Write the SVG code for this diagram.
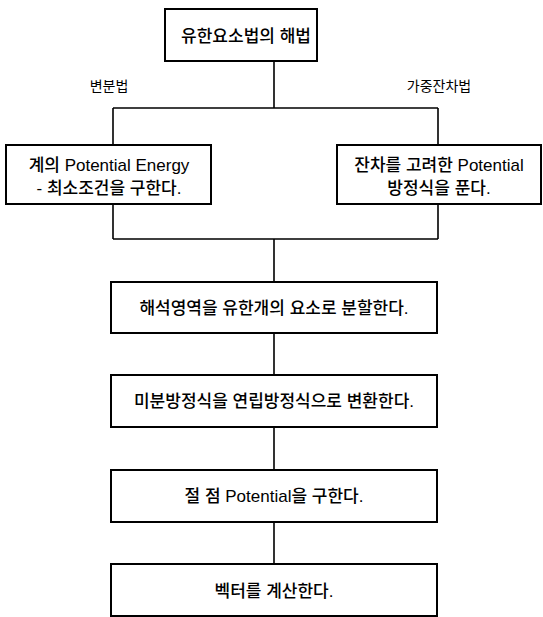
<svg xmlns="http://www.w3.org/2000/svg" width="543" height="617" viewBox="0 0 543 617">
<style>
.box{fill:#fff;stroke:#000;stroke-width:2}
.t{font-family:"Liberation Sans","Noto Sans CJK KR",sans-serif;font-size:17px;font-weight:500;fill:#000;text-anchor:middle}
.l{font-family:"Liberation Sans","Noto Sans CJK KR",sans-serif;font-size:14px;fill:#000;text-anchor:middle}
.c{fill:none;stroke:#000;stroke-width:1.6}
</style>
<rect width="543" height="617" fill="#fff"/>
<g id="connectors">
<path class="c" d="M274 61V108M113 108H438M113 108V145M438 108V145"/>
<path class="c" d="M113 204V239M438 204V239M113 239H438M274 239V282"/>
<path class="c" d="M274 333V375M274 427V470M274 522V564"/>
<text class="l" x="109" y="91">변분법</text>
<text class="l" x="439" y="91">가중잔차법</text>
</g>
<g id="n1"><rect class="box" x="165" y="9" width="152" height="52"/><text class="t" x="246" y="42">유한요소법의 해법</text></g>
<g id="n2"><rect class="box" x="6" y="145" width="205" height="59"/><text class="t" x="109" y="171">계의 Potential Energy</text><text class="t" x="109" y="194">- 최소조건을 구한다.</text></g>
<g id="n3"><rect class="box" x="337" y="145" width="204" height="59"/><text class="t" x="439" y="171">잔차를 고려한 Potential</text><text class="t" x="439" y="194">방정식을 푼다.</text></g>
<g id="n4"><rect class="box" x="111" y="282" width="326" height="51"/><text class="t" x="274" y="314">해석영역을 유한개의 요소로 분할한다.</text></g>
<g id="n5"><rect class="box" x="111" y="375" width="326" height="52"/><text class="t" x="274" y="407">미분방정식을 연립방정식으로 변환한다.</text></g>
<g id="n6"><rect class="box" x="111" y="470" width="326" height="52"/><text class="t" x="274" y="502">절 점 Potential을 구한다.</text></g>
<g id="n7"><rect class="box" x="111" y="564" width="326" height="52"/><text class="t" x="274" y="597">벡터를 계산한다.</text></g>
</svg>
